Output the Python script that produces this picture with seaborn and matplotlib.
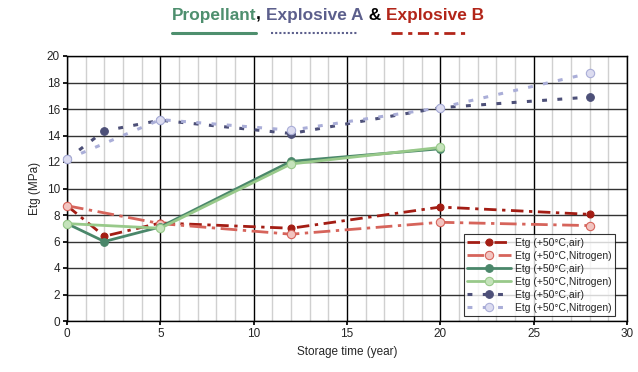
import matplotlib
matplotlib.use("Agg")
import matplotlib.pyplot as plt
import seaborn as sns
import pandas as pd
from matplotlib.ticker import MultipleLocator
from matplotlib.lines import Line2D

sns.set_theme(style="white")
plt.rcParams['font.family'] = ['Liberation Sans', 'DejaVu Sans']

# Data
expB_air_x = [0, 2, 5, 12, 20, 28]
expB_air_y = [8.7, 6.4, 7.4, 7.0, 8.6, 8.05]
expB_n2_x = [0, 5, 12, 20, 28]
expB_n2_y = [8.7, 7.35, 6.55, 7.45, 7.2]
prop_air_x = [0, 2, 5, 12, 20]
prop_air_y = [7.35, 6.0, 7.1, 12.05, 13.0]
prop_n2_x = [0, 5, 12, 20]
prop_n2_y = [7.35, 7.0, 11.85, 13.1]
expA_air_x = [0, 2, 5, 12, 20, 28]
expA_air_y = [12.2, 14.35, 15.15, 14.15, 16.1, 16.9]
expA_n2_x = [0, 5, 12, 20, 28]
expA_n2_y = [12.2, 15.2, 14.4, 16.1, 18.7]
labels = ["Etg (+50°C,air)", "Etg (+50°C,Nitrogen)"] * 3

fig = plt.figure(figsize=(6.38, 3.72), dpi=100)
ax = fig.add_axes([67/638, 1-321/372, 560/638, 265/372])

series = [
    (expB_air_x, expB_air_y, "#a31d14", "#a31d14", (0, (4.5, 2, 1.2, 2)), 2.0, 5),
    (expB_n2_x, expB_n2_y, "#d6645b", "#f2c4c0", (0, (6, 2, 1.2, 2)), 2.0, 6),
    (prop_air_x, prop_air_y, "#4a876a", "#4a876a", "-", 2.0, 5.5),
    (prop_n2_x, prop_n2_y, "#98c98a", "#c5e3bb", "-", 2.0, 6),
    (expA_air_x, expA_air_y, "#4d5078", "#4d5078", (0, (1.6, 3.4)), 2.2, 5.5),
    (expA_n2_x, expA_n2_y, "#aaaed8", "#dcdcf0", (0, (1.6, 3.4)), 2.2, 6),
]

handles = []
for (xs, ys, c, fc, ls, lw, ms), lab in zip(series, labels):
    df = pd.DataFrame({"x": xs, "y": ys})
    sns.lineplot(data=df, x="x", y="y", ax=ax, color=c, linestyle=ls, linewidth=lw,
                 marker="o", markersize=ms, markerfacecolor=fc, markeredgecolor=c,
                 markeredgewidth=0.8, zorder=3, legend=False, sort=False)
    handles.append(Line2D([0], [0], color=c, linestyle=ls, linewidth=lw, marker="o",
                          markersize=ms, markerfacecolor=fc, markeredgecolor=c,
                          markeredgewidth=0.8))
for ln in ax.lines:
    ln.set_clip_on(False)

ax.set_xlim(0, 30)
ax.set_ylim(0, 20)
ax.xaxis.set_major_locator(MultipleLocator(5))
ax.xaxis.set_minor_locator(MultipleLocator(1))
ax.yaxis.set_major_locator(MultipleLocator(2))
ax.grid(which="minor", axis="x", color="#d0d0d0", linewidth=1.0)
ax.grid(which="major", axis="x", color="#000000", linewidth=1.0)
ax.grid(which="major", axis="y", color="#333333", linewidth=1.0)
ax.set_axisbelow(True)
for s in ax.spines.values():
    s.set_color("black")
    s.set_linewidth(1.0)
ax.tick_params(axis="both", which="major", labelsize=8.5, length=3, direction="out",
               left=True, bottom=True, color="black", pad=2)
ax.set_xlabel("Storage time (year)", fontsize=8.5, labelpad=4)
ax.set_ylabel("Etg (MPa)", fontsize=8.5, labelpad=4)

leg = ax.legend(handles, labels, loc="lower right", bbox_to_anchor=(0.983, 0.01),
                fontsize=7.5, frameon=True, fancybox=False, edgecolor="black",
                handlelength=4.2, labelspacing=0.28, borderpad=0.35, handletextpad=0.4,
                borderaxespad=0.2)
leg.get_frame().set_linewidth(0.8)
leg.set_zorder(5)

# Title composed of coloured parts
parts = [("Propellant", "#4e8f6e"), (", ", "black"), ("Explosive A", "#5c5f8c"),
         (" & ", "black"), ("Explosive B", "#b22519")]
fig.canvas.draw()
renderer = fig.canvas.get_renderer()
texts = []
widths = []
for t, c in parts:
    tx = fig.text(0, 1-20/372, t, color=c, fontsize=12.4, fontweight="bold",
                  ha="left", va="baseline")
    texts.append(tx)
    widths.append(tx.get_window_extent(renderer).width)
x0 = 172
for tx, w in zip(texts, widths):
    tx.set_x(x0/638)
    x0 += w
fig.add_artist(Line2D([172/638, 256/638], [1-33/372]*2, color="#4e8f6e", linewidth=2.2))
fig.add_artist(Line2D([271/638, 357/638], [1-33/372]*2, color="#5c5f8c", linewidth=1.5,
                      linestyle=(0, (1, 1))))
fig.add_artist(Line2D([391/638, 470/638], [1-33/372]*2, color="#b22519", linewidth=2.0,
                      linestyle=(0, (4, 2, 1.5, 2))))

fig.savefig("out.png", dpi=100)
